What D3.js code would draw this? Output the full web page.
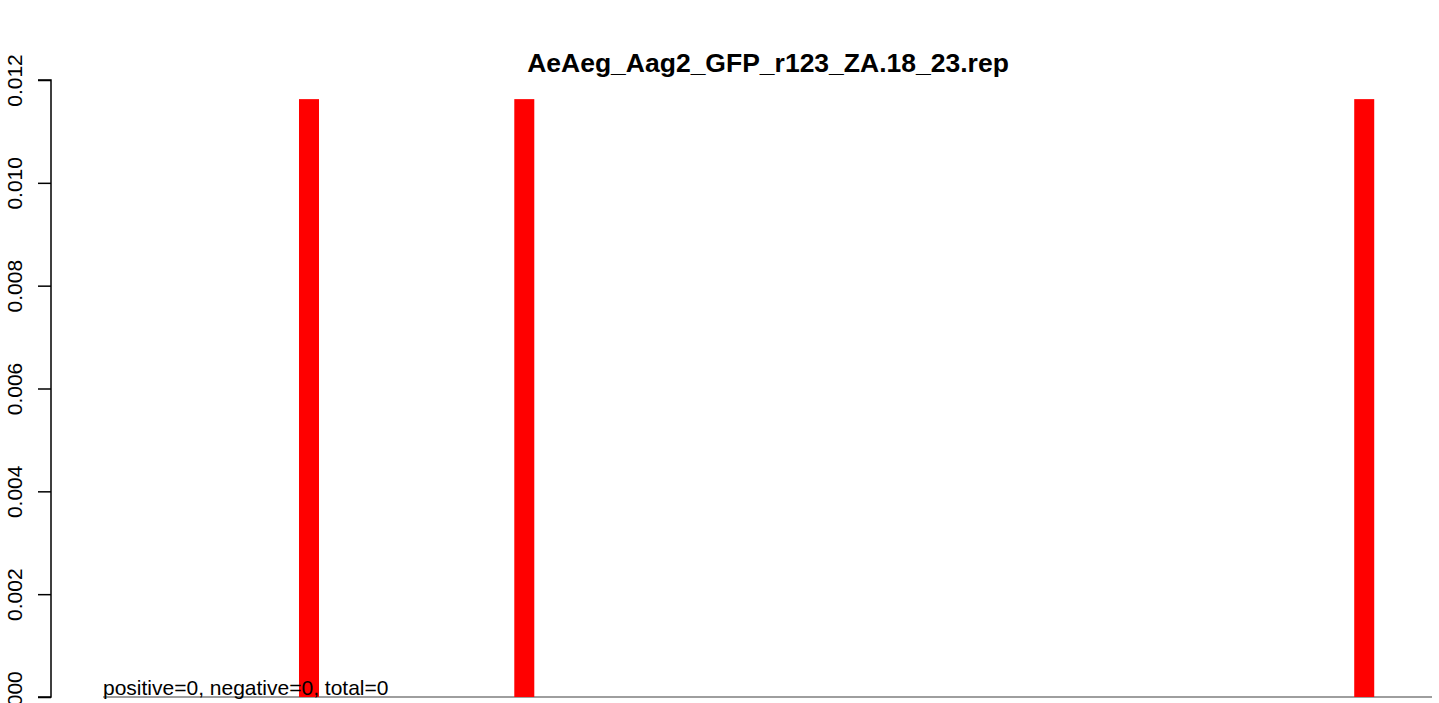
<!DOCTYPE html>
<html><head><meta charset="utf-8">
<script src="https://cdn.jsdelivr.net/npm/d3@7"></script>
<style>body{margin:0;background:#fff}svg{display:block}text{font-family:"Liberation Sans",Arial,sans-serif}</style>
</head><body>
<script>
const title = "AeAeg_Aag2_GFP_r123_ZA.18_23.rep";
const positions = [15.5, 31.7, 94.9];
const values = [0.011628, 0.011628, 0.011628];
const yTicks = [0, 0.002, 0.004, 0.006, 0.008, 0.010, 0.012];
const xDomain = [0, 100];
const note = "positive=0, negative=0, total=0";

const W = 1439, H = 703;
const svg = d3.select("body").append("svg").attr("width", W).attr("height", H);
const x = d3.scaleLinear().domain(xDomain).range([103, 1432]);
const y = d3.scaleLinear().domain([0, 0.012]).range([697, 80]);

// baseline gray line
svg.append("line").attr("x1", x(xDomain[0])).attr("x2", x(xDomain[1]))
  .attr("y1", y(0)).attr("y2", y(0)).attr("stroke", "#9e9e9e").attr("stroke-width", 2);

// bars
svg.selectAll("rect.bar").data(positions).enter().append("rect")
  .attr("x", d => x(d) - 10).attr("width", 20)
  .attr("y", (d, i) => y(values[i])).attr("height", (d, i) => y(0) - y(values[i]))
  .attr("fill", "#ff0000");

// y axis
const ax = svg.append("g").attr("transform", "translate(51,0)")
  .call(d3.axisLeft(y).tickValues(yTicks).tickFormat(d3.format(".3f")).tickSize(13).tickPadding(0));
ax.select(".domain").attr("stroke", "#000").attr("stroke-width", 1.5).attr("d", `M-13,${y(0.012)}H0V${y(0)}H-13`);
ax.selectAll(".tick line").attr("stroke", "#000").attr("stroke-width", 1.5);
ax.selectAll(".tick text").attr("fill", "#000").style("font-size", "21px")
  .attr("x", 0).attr("dy", null).attr("text-anchor", "middle")
  .attr("transform", "translate(-29,0) rotate(-90)");

// title
svg.append("text").attr("x", 768).attr("y", 72).attr("text-anchor", "middle")
  .style("font-size", "26.5px").style("font-weight", "bold").text(title);

// note
svg.append("text").attr("x", 103).attr("y", 695).style("font-size", "21px").attr("fill", "#000").text(note);
</script>
</body></html>
